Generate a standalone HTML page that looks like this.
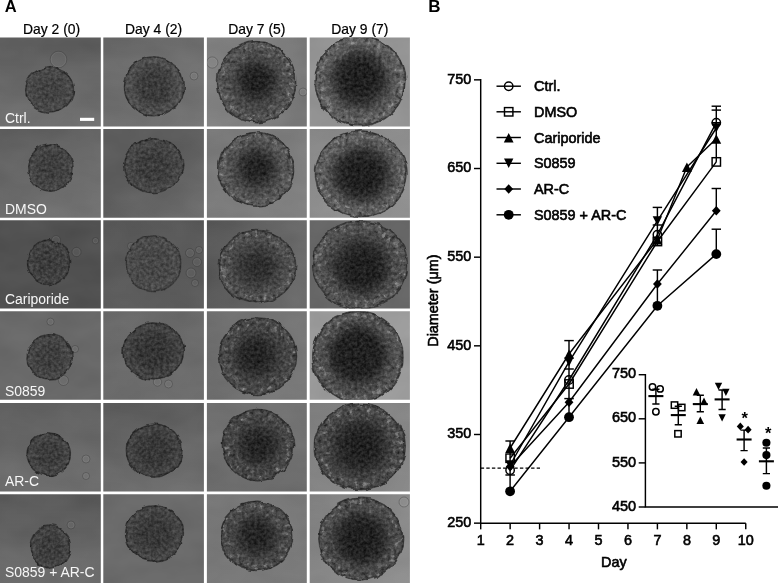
<!DOCTYPE html>
<html><head><meta charset="utf-8"><title>Figure</title>
<style>
html,body{margin:0;padding:0;background:#fff;}
svg{display:block;}
text{font-family:"Liberation Sans",Arial,Helvetica,sans-serif;}
</style></head><body>
<svg width="778" height="583" viewBox="0 0 778 583">
<defs>
<filter id="sph" x="-12%" y="-12%" width="124%" height="124%" color-interpolation-filters="sRGB">
<feTurbulence type="fractalNoise" baseFrequency="0.085" numOctaves="2" seed="3" result="n"/>
<feDisplacementMap in="SourceGraphic" in2="n" scale="5" xChannelSelector="R" yChannelSelector="G" result="d"/>
<feTurbulence type="fractalNoise" baseFrequency="0.33" numOctaves="2" seed="11" result="t0"/>
<feColorMatrix in="t0" type="matrix" values="1 0 0 0 0  1 0 0 0 0  1 0 0 0 0  0 0 0 0 0.5" result="t"/>
<feComposite in="d" in2="t" operator="arithmetic" k1="0" k2="1" k3="0.5" k4="-0.125" result="a"/>
<feComposite in="a" in2="d" operator="in" result="b"/>
<feGaussianBlur in="b" stdDeviation="0.45"/>
</filter>
<filter id="mot" x="-5%" y="-5%" width="110%" height="110%" color-interpolation-filters="sRGB">
<feTurbulence type="fractalNoise" baseFrequency="0.22" numOctaves="2" seed="23" result="t"/>
<feColorMatrix in="t" type="matrix" values="0 0 0 0 0.75  0 0 0 0 0.75  0 0 0 0 0.75  5 0 0 0 -2.85" result="li"/>
<feColorMatrix in="t" type="matrix" values="0 0 0 0 0.08  0 0 0 0 0.08  0 0 0 0 0.08  -5 0 0 0 2.15" result="da"/>
<feMerge result="m"><feMergeNode in="li"/><feMergeNode in="da"/></feMerge>
<feComposite in="m" in2="SourceGraphic" operator="in"/>
</filter>
<filter id="bgn" x="0" y="0" width="100%" height="100%" color-interpolation-filters="sRGB">
<feTurbulence type="fractalNoise" baseFrequency="0.02 0.035" numOctaves="3" seed="5" result="t0"/>
<feColorMatrix in="t0" type="matrix" values="1 0 0 0 0  1 0 0 0 0  1 0 0 0 0  0 0 0 0 1" result="t"/>
<feComposite in="SourceGraphic" in2="t" operator="arithmetic" k1="0" k2="1" k3="0.06" k4="-0.03"/>
</filter>

<radialGradient id="g00" cx="0.5" cy="0.5" r="0.5"><stop offset="0" stop-color="#424242"/><stop offset="0.45" stop-color="#424242"/><stop offset="0.88" stop-color="#4a4a4a"/><stop offset="1" stop-color="#4a4a4a"/></radialGradient>
<linearGradient id="b00" x1="0.5" y1="0.1" x2="0.5" y2="1"><stop offset="0" stop-color="#5e5e5e"/><stop offset="1" stop-color="#727272"/></linearGradient>
<radialGradient id="g01" cx="0.5" cy="0.5" r="0.5"><stop offset="0" stop-color="#3b3b3b"/><stop offset="0.45" stop-color="#3b3b3b"/><stop offset="0.88" stop-color="#505050"/><stop offset="1" stop-color="#505050"/></radialGradient>
<linearGradient id="b01" x1="0" y1="0" x2="1" y2="1"><stop offset="0" stop-color="#676767"/><stop offset="1" stop-color="#757575"/></linearGradient>
<radialGradient id="g02" cx="0.5" cy="0.5" r="0.5"><stop offset="0" stop-color="#3c3c3c"/><stop offset="0.45" stop-color="#3c3c3c"/><stop offset="0.88" stop-color="#565656"/><stop offset="1" stop-color="#565656"/></radialGradient>
<radialGradient id="k02" gradientUnits="userSpaceOnUse" cx="256.6" cy="81" r="22"><stop offset="0" stop-color="#222222"/><stop offset="0.409" stop-color="#222222"/><stop offset="0.705" stop-color="#222222" stop-opacity="0.5"/><stop offset="1" stop-color="#222222" stop-opacity="0"/></radialGradient>
<linearGradient id="b02" x1="0" y1="0.2" x2="1" y2="0.5"><stop offset="0" stop-color="#838383"/><stop offset="1" stop-color="#777777"/></linearGradient>
<radialGradient id="g03" cx="0.5" cy="0.5" r="0.5"><stop offset="0" stop-color="#383838"/><stop offset="0.45" stop-color="#383838"/><stop offset="0.88" stop-color="#606060"/><stop offset="1" stop-color="#606060"/></radialGradient>
<radialGradient id="k03" gradientUnits="userSpaceOnUse" cx="359.2" cy="78" r="31"><stop offset="0" stop-color="#202020"/><stop offset="0.419" stop-color="#202020"/><stop offset="0.710" stop-color="#202020" stop-opacity="0.5"/><stop offset="1" stop-color="#202020" stop-opacity="0"/></radialGradient>
<radialGradient id="g10" cx="0.5" cy="0.5" r="0.5"><stop offset="0" stop-color="#3e3e3e"/><stop offset="0.45" stop-color="#3e3e3e"/><stop offset="0.88" stop-color="#484848"/><stop offset="1" stop-color="#484848"/></radialGradient>
<linearGradient id="b10" x1="0.2" y1="0" x2="0.8" y2="1"><stop offset="0" stop-color="#5e5e5e"/><stop offset="1" stop-color="#747474"/></linearGradient>
<radialGradient id="g11" cx="0.5" cy="0.5" r="0.5"><stop offset="0" stop-color="#3c3c3c"/><stop offset="0.45" stop-color="#3c3c3c"/><stop offset="0.88" stop-color="#484848"/><stop offset="1" stop-color="#484848"/></radialGradient>
<linearGradient id="b11" x1="0.45" y1="0.4" x2="1" y2="1"><stop offset="0" stop-color="#5c5c5c"/><stop offset="1" stop-color="#717171"/></linearGradient>
<radialGradient id="g12" cx="0.5" cy="0.5" r="0.5"><stop offset="0" stop-color="#3e3e3e"/><stop offset="0.45" stop-color="#3e3e3e"/><stop offset="0.88" stop-color="#5a5a5a"/><stop offset="1" stop-color="#5a5a5a"/></radialGradient>
<radialGradient id="k12" gradientUnits="userSpaceOnUse" cx="256.6" cy="168" r="21"><stop offset="0" stop-color="#242424"/><stop offset="0.381" stop-color="#242424"/><stop offset="0.690" stop-color="#242424" stop-opacity="0.5"/><stop offset="1" stop-color="#242424" stop-opacity="0"/></radialGradient>
<linearGradient id="b12" x1="0" y1="0" x2="1" y2="1"><stop offset="0" stop-color="#767676"/><stop offset="1" stop-color="#828282"/></linearGradient>
<radialGradient id="g13" cx="0.5" cy="0.5" r="0.5"><stop offset="0" stop-color="#363636"/><stop offset="0.45" stop-color="#363636"/><stop offset="0.88" stop-color="#606060"/><stop offset="1" stop-color="#606060"/></radialGradient>
<radialGradient id="k13" gradientUnits="userSpaceOnUse" cx="361.5" cy="175.1" r="31"><stop offset="0" stop-color="#202020"/><stop offset="0.419" stop-color="#202020"/><stop offset="0.710" stop-color="#202020" stop-opacity="0.5"/><stop offset="1" stop-color="#202020" stop-opacity="0"/></radialGradient>
<linearGradient id="b13" x1="0" y1="0" x2="1" y2="1"><stop offset="0" stop-color="#858585"/><stop offset="1" stop-color="#929292"/></linearGradient>
<radialGradient id="g20" cx="0.5" cy="0.5" r="0.5"><stop offset="0" stop-color="#3c3c3c"/><stop offset="0.45" stop-color="#3c3c3c"/><stop offset="0.88" stop-color="#444444"/><stop offset="1" stop-color="#444444"/></radialGradient>
<radialGradient id="g21" cx="0.5" cy="0.5" r="0.5"><stop offset="0" stop-color="#474747"/><stop offset="0.45" stop-color="#474747"/><stop offset="0.88" stop-color="#4c4c4c"/><stop offset="1" stop-color="#4c4c4c"/></radialGradient>
<linearGradient id="b21" x1="0.5" y1="0" x2="0.5" y2="1"><stop offset="0" stop-color="#575757"/><stop offset="1" stop-color="#5c5c5c"/></linearGradient>
<radialGradient id="g22" cx="0.5" cy="0.5" r="0.5"><stop offset="0" stop-color="#3c3c3c"/><stop offset="0.45" stop-color="#3c3c3c"/><stop offset="0.88" stop-color="#525252"/><stop offset="1" stop-color="#525252"/></radialGradient>
<radialGradient id="k22" gradientUnits="userSpaceOnUse" cx="258" cy="267" r="19"><stop offset="0" stop-color="#2e2e2e"/><stop offset="0.421" stop-color="#2e2e2e"/><stop offset="0.711" stop-color="#2e2e2e" stop-opacity="0.5"/><stop offset="1" stop-color="#2e2e2e" stop-opacity="0"/></radialGradient>
<linearGradient id="b22" x1="0" y1="0.5" x2="1" y2="0.5"><stop offset="0" stop-color="#565656"/><stop offset="1" stop-color="#6d6d6d"/></linearGradient>
<radialGradient id="g23" cx="0.5" cy="0.5" r="0.5"><stop offset="0" stop-color="#343434"/><stop offset="0.45" stop-color="#343434"/><stop offset="0.88" stop-color="#545454"/><stop offset="1" stop-color="#545454"/></radialGradient>
<radialGradient id="k23" gradientUnits="userSpaceOnUse" cx="362.5" cy="268.5" r="30"><stop offset="0" stop-color="#202020"/><stop offset="0.400" stop-color="#202020"/><stop offset="0.700" stop-color="#202020" stop-opacity="0.5"/><stop offset="1" stop-color="#202020" stop-opacity="0"/></radialGradient>
<radialGradient id="g30" cx="0.5" cy="0.5" r="0.5"><stop offset="0" stop-color="#3e3e3e"/><stop offset="0.45" stop-color="#3e3e3e"/><stop offset="0.88" stop-color="#484848"/><stop offset="1" stop-color="#484848"/></radialGradient>
<radialGradient id="g31" cx="0.5" cy="0.5" r="0.5"><stop offset="0" stop-color="#353535"/><stop offset="0.45" stop-color="#353535"/><stop offset="0.88" stop-color="#444444"/><stop offset="1" stop-color="#444444"/></radialGradient>
<linearGradient id="b31" x1="0" y1="0" x2="1" y2="1"><stop offset="0" stop-color="#676767"/><stop offset="1" stop-color="#6e6e6e"/></linearGradient>
<radialGradient id="g32" cx="0.5" cy="0.5" r="0.5"><stop offset="0" stop-color="#363636"/><stop offset="0.45" stop-color="#363636"/><stop offset="0.88" stop-color="#4a4a4a"/><stop offset="1" stop-color="#4a4a4a"/></radialGradient>
<radialGradient id="k32" gradientUnits="userSpaceOnUse" cx="255.3" cy="355.3" r="22"><stop offset="0" stop-color="#242424"/><stop offset="0.409" stop-color="#242424"/><stop offset="0.705" stop-color="#242424" stop-opacity="0.5"/><stop offset="1" stop-color="#242424" stop-opacity="0"/></radialGradient>
<linearGradient id="b32" x1="0" y1="0.4" x2="1" y2="0.6"><stop offset="0" stop-color="#6c6c6c"/><stop offset="1" stop-color="#797979"/></linearGradient>
<radialGradient id="g33" cx="0.5" cy="0.5" r="0.5"><stop offset="0" stop-color="#2e2e2e"/><stop offset="0.45" stop-color="#2e2e2e"/><stop offset="0.88" stop-color="#545454"/><stop offset="1" stop-color="#545454"/></radialGradient>
<radialGradient id="k33" gradientUnits="userSpaceOnUse" cx="357.2" cy="353.5" r="31"><stop offset="0" stop-color="#212121"/><stop offset="0.581" stop-color="#212121"/><stop offset="0.790" stop-color="#212121" stop-opacity="0.5"/><stop offset="1" stop-color="#212121" stop-opacity="0"/></radialGradient>
<radialGradient id="g40" cx="0.5" cy="0.5" r="0.5"><stop offset="0" stop-color="#3c3c3c"/><stop offset="0.45" stop-color="#3c3c3c"/><stop offset="0.88" stop-color="#464646"/><stop offset="1" stop-color="#464646"/></radialGradient>
<linearGradient id="b40" x1="0.4" y1="0" x2="0.6" y2="1"><stop offset="0" stop-color="#616161"/><stop offset="1" stop-color="#6e6e6e"/></linearGradient>
<radialGradient id="g41" cx="0.5" cy="0.5" r="0.5"><stop offset="0" stop-color="#373737"/><stop offset="0.45" stop-color="#373737"/><stop offset="0.88" stop-color="#444444"/><stop offset="1" stop-color="#444444"/></radialGradient>
<linearGradient id="b41" x1="0.4" y1="0" x2="0.6" y2="1"><stop offset="0" stop-color="#5c5c5c"/><stop offset="1" stop-color="#6f6f6f"/></linearGradient>
<radialGradient id="g42" cx="0.5" cy="0.5" r="0.5"><stop offset="0" stop-color="#373737"/><stop offset="0.45" stop-color="#373737"/><stop offset="0.88" stop-color="#484848"/><stop offset="1" stop-color="#484848"/></radialGradient>
<radialGradient id="k42" gradientUnits="userSpaceOnUse" cx="258" cy="446" r="21"><stop offset="0" stop-color="#242424"/><stop offset="0.381" stop-color="#242424"/><stop offset="0.690" stop-color="#242424" stop-opacity="0.5"/><stop offset="1" stop-color="#242424" stop-opacity="0"/></radialGradient>
<linearGradient id="b42" x1="0.5" y1="0" x2="0.5" y2="1"><stop offset="0" stop-color="#737373"/><stop offset="1" stop-color="#6c6c6c"/></linearGradient>
<radialGradient id="g43" cx="0.5" cy="0.5" r="0.5"><stop offset="0" stop-color="#2e2e2e"/><stop offset="0.45" stop-color="#2e2e2e"/><stop offset="0.88" stop-color="#4c4c4c"/><stop offset="1" stop-color="#4c4c4c"/></radialGradient>
<radialGradient id="k43" gradientUnits="userSpaceOnUse" cx="361.2" cy="446" r="26"><stop offset="0" stop-color="#212121"/><stop offset="0.385" stop-color="#212121"/><stop offset="0.692" stop-color="#212121" stop-opacity="0.5"/><stop offset="1" stop-color="#212121" stop-opacity="0"/></radialGradient>
<linearGradient id="b43" x1="0" y1="0" x2="1" y2="1"><stop offset="0" stop-color="#7e7e7e"/><stop offset="1" stop-color="#898989"/></linearGradient>
<radialGradient id="g50" cx="0.5" cy="0.5" r="0.5"><stop offset="0" stop-color="#3c3c3c"/><stop offset="0.45" stop-color="#3c3c3c"/><stop offset="0.88" stop-color="#464646"/><stop offset="1" stop-color="#464646"/></radialGradient>
<linearGradient id="b50" x1="0.5" y1="0" x2="0.5" y2="1"><stop offset="0" stop-color="#595959"/><stop offset="1" stop-color="#6e6e6e"/></linearGradient>
<radialGradient id="g51" cx="0.5" cy="0.5" r="0.5"><stop offset="0" stop-color="#383838"/><stop offset="0.45" stop-color="#383838"/><stop offset="0.88" stop-color="#464646"/><stop offset="1" stop-color="#464646"/></radialGradient>
<radialGradient id="g52" cx="0.5" cy="0.5" r="0.5"><stop offset="0" stop-color="#383838"/><stop offset="0.45" stop-color="#383838"/><stop offset="0.88" stop-color="#4c4c4c"/><stop offset="1" stop-color="#4c4c4c"/></radialGradient>
<radialGradient id="k52" gradientUnits="userSpaceOnUse" cx="256.6" cy="535.3" r="21"><stop offset="0" stop-color="#242424"/><stop offset="0.381" stop-color="#242424"/><stop offset="0.690" stop-color="#242424" stop-opacity="0.5"/><stop offset="1" stop-color="#242424" stop-opacity="0"/></radialGradient>
<linearGradient id="b52" x1="0" y1="0" x2="1" y2="1"><stop offset="0" stop-color="#757575"/><stop offset="1" stop-color="#7c7c7c"/></linearGradient>
<radialGradient id="g53" cx="0.5" cy="0.5" r="0.5"><stop offset="0" stop-color="#303030"/><stop offset="0.45" stop-color="#303030"/><stop offset="0.88" stop-color="#4e4e4e"/><stop offset="1" stop-color="#4e4e4e"/></radialGradient>
<radialGradient id="k53" gradientUnits="userSpaceOnUse" cx="361.2" cy="539.3" r="29"><stop offset="0" stop-color="#202020"/><stop offset="0.414" stop-color="#202020"/><stop offset="0.707" stop-color="#202020" stop-opacity="0.5"/><stop offset="1" stop-color="#202020" stop-opacity="0"/></radialGradient>
<linearGradient id="b53" x1="0" y1="0" x2="1" y2="1"><stop offset="0" stop-color="#7f7f7f"/><stop offset="1" stop-color="#909090"/></linearGradient>
</defs>
<rect width="778" height="583" fill="#fff"/>
<svg x="0" y="37.5" width="100.8" height="89.1" viewBox="0 37.5 100.8 89.1" overflow="hidden">
<rect x="-2" y="35.5" width="104.8" height="93.1" fill="url(#b00)" filter="url(#bgn)"/>
<circle cx="58.5" cy="59.5" r="8.3" fill="#fff" fill-opacity="0.03" stroke="#303030" stroke-opacity="0.35" stroke-width="0.9"/><circle cx="58.5" cy="59.5" r="7.300000000000001" fill="none" stroke="#fff" stroke-opacity="0.08" stroke-width="0.8"/>
<g filter="url(#sph)"><ellipse cx="49.6" cy="89.9" rx="23.9" ry="22.2" fill="url(#g00)"/>
<ellipse cx="49.6" cy="89.9" rx="23.9" ry="22.2" fill="none" stroke="#303030" stroke-width="1.8" stroke-opacity="0.8"/></g>
</svg>
<svg x="103.3" y="37.5" width="100.6" height="89.1" viewBox="103.3 37.5 100.6 89.1" overflow="hidden">
<rect x="101.3" y="35.5" width="104.6" height="93.1" fill="url(#b01)" filter="url(#bgn)"/>
<circle cx="194" cy="76" r="4" fill="#fff" fill-opacity="0.03" stroke="#303030" stroke-opacity="0.35" stroke-width="0.9"/><circle cx="194" cy="76" r="3" fill="none" stroke="#fff" stroke-opacity="0.08" stroke-width="0.8"/>
<g filter="url(#sph)"><ellipse cx="153.9" cy="86.4" rx="29.5" ry="29.5" fill="url(#g01)"/>
<ellipse cx="153.9" cy="86.4" rx="29.5" ry="29.5" fill="none" stroke="#2e2e2e" stroke-width="1.8" stroke-opacity="0.8"/></g>
</svg>
<svg x="206.9" y="37.5" width="99.9" height="89.1" viewBox="206.9 37.5 99.9 89.1" overflow="hidden">
<rect x="204.9" y="35.5" width="103.9" height="93.1" fill="url(#b02)" filter="url(#bgn)"/>
<circle cx="212.3" cy="62.5" r="5.6" fill="#fff" fill-opacity="0.03" stroke="#303030" stroke-opacity="0.35" stroke-width="0.9"/><circle cx="212.3" cy="62.5" r="4.6" fill="none" stroke="#fff" stroke-opacity="0.08" stroke-width="0.8"/>
<circle cx="303" cy="92" r="4" fill="#fff" fill-opacity="0.03" stroke="#303030" stroke-opacity="0.35" stroke-width="0.9"/><circle cx="303" cy="92" r="3" fill="none" stroke="#fff" stroke-opacity="0.08" stroke-width="0.8"/>
<g filter="url(#sph)"><ellipse cx="256.5" cy="82.2" rx="39.2" ry="40.6" fill="url(#g02)"/>
<circle cx="256.6" cy="81" r="22" fill="url(#k02)"/>
<ellipse cx="256.5" cy="82.2" rx="35.8" ry="37.2" fill="none" stroke="#000" stroke-width="6.8" opacity="0.42" filter="url(#mot)"/>
<ellipse cx="256.5" cy="82.2" rx="29.1" ry="30.5" fill="none" stroke="#000" stroke-width="6.8" opacity="0.21" filter="url(#mot)"/>
<ellipse cx="256.5" cy="82.2" rx="39.2" ry="40.6" fill="none" stroke="#2e2e2e" stroke-width="1.8" stroke-opacity="0.8"/></g>
</svg>
<svg x="309.7" y="37.5" width="100.2" height="89.1" viewBox="309.7 37.5 100.2 89.1" overflow="hidden">
<rect x="307.7" y="35.5" width="104.2" height="93.1" fill="#949494" filter="url(#bgn)"/>
<g filter="url(#sph)"><ellipse cx="360" cy="81" rx="44.9" ry="44.9" fill="url(#g03)"/>
<circle cx="359.2" cy="78" r="31" fill="url(#k03)"/>
<ellipse cx="360" cy="81" rx="41.0" ry="41.0" fill="none" stroke="#000" stroke-width="7.7" opacity="0.42" filter="url(#mot)"/>
<ellipse cx="360" cy="81" rx="33.3" ry="33.3" fill="none" stroke="#000" stroke-width="7.7" opacity="0.21" filter="url(#mot)"/>
<ellipse cx="360" cy="81" rx="44.9" ry="44.9" fill="none" stroke="#323232" stroke-width="1.8" stroke-opacity="0.8"/></g>
</svg>
<svg x="0" y="129.1" width="100.8" height="88.7" viewBox="0 129.1 100.8 88.7" overflow="hidden">
<rect x="-2" y="127.1" width="104.8" height="92.7" fill="url(#b10)" filter="url(#bgn)"/>
<g filter="url(#sph)"><ellipse cx="50.4" cy="168" rx="22.6" ry="23.2" fill="url(#g10)"/>
<ellipse cx="50.4" cy="168" rx="22.6" ry="23.2" fill="none" stroke="#2e2e2e" stroke-width="1.8" stroke-opacity="0.8"/></g>
</svg>
<svg x="103.3" y="129.1" width="100.6" height="88.7" viewBox="103.3 129.1 100.6 88.7" overflow="hidden">
<rect x="101.3" y="127.1" width="104.6" height="92.7" fill="url(#b11)" filter="url(#bgn)"/>
<g filter="url(#sph)"><ellipse cx="153.3" cy="165.7" rx="29.6" ry="26.9" fill="url(#g11)"/>
<ellipse cx="153.3" cy="165.7" rx="29.6" ry="26.9" fill="none" stroke="#2e2e2e" stroke-width="1.8" stroke-opacity="0.8"/></g>
</svg>
<svg x="206.9" y="129.1" width="99.9" height="88.7" viewBox="206.9 129.1 99.9 88.7" overflow="hidden">
<rect x="204.9" y="127.1" width="103.9" height="92.7" fill="url(#b12)" filter="url(#bgn)"/>
<g filter="url(#sph)"><ellipse cx="256.1" cy="169.2" rx="37.6" ry="36.9" fill="url(#g12)"/>
<circle cx="256.6" cy="168" r="21" fill="url(#k12)"/>
<ellipse cx="256.1" cy="169.2" rx="34.4" ry="33.7" fill="none" stroke="#000" stroke-width="6.5" opacity="0.42" filter="url(#mot)"/>
<ellipse cx="256.1" cy="169.2" rx="27.9" ry="27.2" fill="none" stroke="#000" stroke-width="6.5" opacity="0.21" filter="url(#mot)"/>
<ellipse cx="256.1" cy="169.2" rx="37.6" ry="36.9" fill="none" stroke="#2e2e2e" stroke-width="1.8" stroke-opacity="0.8"/></g>
</svg>
<svg x="309.7" y="129.1" width="100.2" height="88.7" viewBox="309.7 129.1 100.2 88.7" overflow="hidden">
<rect x="307.7" y="127.1" width="104.2" height="92.7" fill="url(#b13)" filter="url(#bgn)"/>
<g filter="url(#sph)"><ellipse cx="361.2" cy="173.8" rx="45.8" ry="42.9" fill="url(#g13)"/>
<circle cx="361.5" cy="175.1" r="31" fill="url(#k13)"/>
<ellipse cx="361.2" cy="173.8" rx="41.9" ry="39.0" fill="none" stroke="#000" stroke-width="7.9" opacity="0.42" filter="url(#mot)"/>
<ellipse cx="361.2" cy="173.8" rx="34.0" ry="31.1" fill="none" stroke="#000" stroke-width="7.9" opacity="0.21" filter="url(#mot)"/>
<ellipse cx="361.2" cy="173.8" rx="45.8" ry="42.9" fill="none" stroke="#323232" stroke-width="1.8" stroke-opacity="0.8"/></g>
</svg>
<svg x="0" y="220.2" width="100.8" height="88.4" viewBox="0 220.2 100.8 88.4" overflow="hidden">
<rect x="-2" y="218.2" width="104.8" height="92.4" fill="#515151" filter="url(#bgn)"/>
<circle cx="76.5" cy="252" r="4.6" fill="#fff" fill-opacity="0.03" stroke="#303030" stroke-opacity="0.35" stroke-width="0.9"/><circle cx="76.5" cy="252" r="3.5999999999999996" fill="none" stroke="#fff" stroke-opacity="0.08" stroke-width="0.8"/>
<circle cx="95.5" cy="240.7" r="3.2" fill="#fff" fill-opacity="0.03" stroke="#303030" stroke-opacity="0.35" stroke-width="0.9"/><circle cx="95.5" cy="240.7" r="2.2" fill="none" stroke="#fff" stroke-opacity="0.08" stroke-width="0.8"/>
<circle cx="56" cy="240" r="4.5" fill="#fff" fill-opacity="0.03" stroke="#303030" stroke-opacity="0.35" stroke-width="0.9"/><circle cx="56" cy="240" r="3.5" fill="none" stroke="#fff" stroke-opacity="0.08" stroke-width="0.8"/>
<g filter="url(#sph)"><ellipse cx="48.6" cy="262.3" rx="21.0" ry="22.4" fill="url(#g20)"/>
<ellipse cx="48.6" cy="262.3" rx="21.0" ry="22.4" fill="none" stroke="#2c2c2c" stroke-width="1.8" stroke-opacity="0.8"/></g>
</svg>
<svg x="103.3" y="220.2" width="100.6" height="88.4" viewBox="103.3 220.2 100.6 88.4" overflow="hidden">
<rect x="101.3" y="218.2" width="104.6" height="92.4" fill="url(#b21)" filter="url(#bgn)"/>
<circle cx="190" cy="253" r="4.5" fill="#fff" fill-opacity="0.03" stroke="#303030" stroke-opacity="0.35" stroke-width="0.9"/><circle cx="190" cy="253" r="3.5" fill="none" stroke="#fff" stroke-opacity="0.08" stroke-width="0.8"/>
<circle cx="197" cy="262" r="4.5" fill="#fff" fill-opacity="0.03" stroke="#303030" stroke-opacity="0.35" stroke-width="0.9"/><circle cx="197" cy="262" r="3.5" fill="none" stroke="#fff" stroke-opacity="0.08" stroke-width="0.8"/>
<circle cx="191" cy="273" r="5" fill="#fff" fill-opacity="0.03" stroke="#303030" stroke-opacity="0.35" stroke-width="0.9"/><circle cx="191" cy="273" r="4" fill="none" stroke="#fff" stroke-opacity="0.08" stroke-width="0.8"/>
<circle cx="199" cy="250" r="3.5" fill="#fff" fill-opacity="0.03" stroke="#303030" stroke-opacity="0.35" stroke-width="0.9"/><circle cx="199" cy="250" r="2.5" fill="none" stroke="#fff" stroke-opacity="0.08" stroke-width="0.8"/>
<circle cx="195" cy="283" r="3.5" fill="#fff" fill-opacity="0.03" stroke="#303030" stroke-opacity="0.35" stroke-width="0.9"/><circle cx="195" cy="283" r="2.5" fill="none" stroke="#fff" stroke-opacity="0.08" stroke-width="0.8"/>
<circle cx="131" cy="246" r="3.5" fill="#fff" fill-opacity="0.03" stroke="#303030" stroke-opacity="0.35" stroke-width="0.9"/><circle cx="131" cy="246" r="2.5" fill="none" stroke="#fff" stroke-opacity="0.08" stroke-width="0.8"/>
<g filter="url(#sph)"><ellipse cx="153.6" cy="263.7" rx="27.2" ry="27.8" fill="url(#g21)"/>
<ellipse cx="153.6" cy="263.7" rx="27.2" ry="27.8" fill="none" stroke="#383838" stroke-width="1.8" stroke-opacity="0.8"/></g>
</svg>
<svg x="206.9" y="220.2" width="99.9" height="88.4" viewBox="206.9 220.2 99.9 88.4" overflow="hidden">
<rect x="204.9" y="218.2" width="103.9" height="92.4" fill="url(#b22)" filter="url(#bgn)"/>
<g filter="url(#sph)"><ellipse cx="257" cy="266.6" rx="38.7" ry="36.1" fill="url(#g22)"/>
<circle cx="258" cy="267" r="19" fill="url(#k22)"/>
<ellipse cx="257" cy="266.6" rx="35.4" ry="32.8" fill="none" stroke="#000" stroke-width="6.7" opacity="0.42" filter="url(#mot)"/>
<ellipse cx="257" cy="266.6" rx="28.7" ry="26.1" fill="none" stroke="#000" stroke-width="6.7" opacity="0.21" filter="url(#mot)"/>
<ellipse cx="257" cy="266.6" rx="38.7" ry="36.1" fill="none" stroke="#303030" stroke-width="1.8" stroke-opacity="0.8"/></g>
</svg>
<svg x="309.7" y="220.2" width="100.2" height="88.4" viewBox="309.7 220.2 100.2 88.4" overflow="hidden">
<rect x="307.7" y="218.2" width="104.2" height="92.4" fill="#676767" filter="url(#bgn)"/>
<g filter="url(#sph)"><ellipse cx="360.1" cy="265" rx="47.4" ry="43.9" fill="url(#g23)"/>
<circle cx="362.5" cy="268.5" r="30" fill="url(#k23)"/>
<ellipse cx="360.1" cy="265" rx="43.3" ry="39.8" fill="none" stroke="#000" stroke-width="8.2" opacity="0.42" filter="url(#mot)"/>
<ellipse cx="360.1" cy="265" rx="35.2" ry="31.7" fill="none" stroke="#000" stroke-width="8.2" opacity="0.21" filter="url(#mot)"/>
<ellipse cx="360.1" cy="265" rx="47.4" ry="43.9" fill="none" stroke="#323232" stroke-width="1.8" stroke-opacity="0.8"/></g>
</svg>
<svg x="0" y="311.2" width="100.8" height="88.5" viewBox="0 311.2 100.8 88.5" overflow="hidden">
<rect x="-2" y="309.2" width="104.8" height="92.5" fill="#686868" filter="url(#bgn)"/>
<circle cx="50.5" cy="321.7" r="3.6" fill="#fff" fill-opacity="0.03" stroke="#303030" stroke-opacity="0.35" stroke-width="0.9"/><circle cx="50.5" cy="321.7" r="2.6" fill="none" stroke="#fff" stroke-opacity="0.08" stroke-width="0.8"/>
<circle cx="63.5" cy="380.5" r="5" fill="#fff" fill-opacity="0.03" stroke="#303030" stroke-opacity="0.35" stroke-width="0.9"/><circle cx="63.5" cy="380.5" r="4" fill="none" stroke="#fff" stroke-opacity="0.08" stroke-width="0.8"/>
<circle cx="75" cy="349" r="3.5" fill="#fff" fill-opacity="0.03" stroke="#303030" stroke-opacity="0.35" stroke-width="0.9"/><circle cx="75" cy="349" r="2.5" fill="none" stroke="#fff" stroke-opacity="0.08" stroke-width="0.8"/>
<g filter="url(#sph)"><ellipse cx="49.6" cy="357.3" rx="22.6" ry="22.6" fill="url(#g30)"/>
<ellipse cx="49.6" cy="357.3" rx="22.6" ry="22.6" fill="none" stroke="#2e2e2e" stroke-width="1.8" stroke-opacity="0.8"/></g>
</svg>
<svg x="103.3" y="311.2" width="100.6" height="88.5" viewBox="103.3 311.2 100.6 88.5" overflow="hidden">
<rect x="101.3" y="309.2" width="104.6" height="92.5" fill="url(#b31)" filter="url(#bgn)"/>
<circle cx="157.5" cy="382" r="4.2" fill="#fff" fill-opacity="0.03" stroke="#303030" stroke-opacity="0.35" stroke-width="0.9"/><circle cx="157.5" cy="382" r="3.2" fill="none" stroke="#fff" stroke-opacity="0.08" stroke-width="0.8"/>
<circle cx="168.5" cy="384" r="4" fill="#fff" fill-opacity="0.03" stroke="#303030" stroke-opacity="0.35" stroke-width="0.9"/><circle cx="168.5" cy="384" r="3" fill="none" stroke="#fff" stroke-opacity="0.08" stroke-width="0.8"/>
<g filter="url(#sph)"><ellipse cx="153.2" cy="351.4" rx="30.2" ry="28.4" fill="url(#g31)"/>
<ellipse cx="153.2" cy="351.4" rx="30.2" ry="28.4" fill="none" stroke="#2a2a2a" stroke-width="1.8" stroke-opacity="0.8"/></g>
</svg>
<svg x="206.9" y="311.2" width="99.9" height="88.5" viewBox="206.9 311.2 99.9 88.5" overflow="hidden">
<rect x="204.9" y="309.2" width="103.9" height="92.5" fill="url(#b32)" filter="url(#bgn)"/>
<g filter="url(#sph)"><ellipse cx="257.5" cy="356.3" rx="39.0" ry="38.4" fill="url(#g32)"/>
<circle cx="255.3" cy="355.3" r="22" fill="url(#k32)"/>
<ellipse cx="257.5" cy="356.3" rx="35.6" ry="35.0" fill="none" stroke="#000" stroke-width="6.7" opacity="0.42" filter="url(#mot)"/>
<ellipse cx="257.5" cy="356.3" rx="28.9" ry="28.3" fill="none" stroke="#000" stroke-width="6.7" opacity="0.21" filter="url(#mot)"/>
<ellipse cx="257.5" cy="356.3" rx="39.0" ry="38.4" fill="none" stroke="#2e2e2e" stroke-width="1.8" stroke-opacity="0.8"/></g>
</svg>
<svg x="309.7" y="311.2" width="100.2" height="88.5" viewBox="309.7 311.2 100.2 88.5" overflow="hidden">
<rect x="307.7" y="309.2" width="104.2" height="92.5" fill="#9b9b9b" filter="url(#bgn)"/>
<g filter="url(#sph)"><ellipse cx="357.9" cy="356.7" rx="45.1" ry="45.4" fill="url(#g33)"/>
<circle cx="357.2" cy="353.5" r="31" fill="url(#k33)"/>
<ellipse cx="357.9" cy="356.7" rx="41.2" ry="41.5" fill="none" stroke="#000" stroke-width="7.8" opacity="0.42" filter="url(#mot)"/>
<ellipse cx="357.9" cy="356.7" rx="33.4" ry="33.7" fill="none" stroke="#000" stroke-width="7.8" opacity="0.21" filter="url(#mot)"/>
<ellipse cx="357.9" cy="356.7" rx="45.1" ry="45.4" fill="none" stroke="#323232" stroke-width="1.8" stroke-opacity="0.8"/></g>
</svg>
<svg x="0" y="403.0" width="100.8" height="88.6" viewBox="0 403.0 100.8 88.6" overflow="hidden">
<rect x="-2" y="401.0" width="104.8" height="92.6" fill="url(#b40)" filter="url(#bgn)"/>
<circle cx="86" cy="459" r="4" fill="#fff" fill-opacity="0.03" stroke="#303030" stroke-opacity="0.35" stroke-width="0.9"/><circle cx="86" cy="459" r="3" fill="none" stroke="#fff" stroke-opacity="0.08" stroke-width="0.8"/>
<circle cx="86" cy="476" r="3.5" fill="#fff" fill-opacity="0.03" stroke="#303030" stroke-opacity="0.35" stroke-width="0.9"/><circle cx="86" cy="476" r="2.5" fill="none" stroke="#fff" stroke-opacity="0.08" stroke-width="0.8"/>
<g filter="url(#sph)"><ellipse cx="48.7" cy="454.3" rx="21.6" ry="21.4" fill="url(#g40)"/>
<ellipse cx="48.7" cy="454.3" rx="21.6" ry="21.4" fill="none" stroke="#2c2c2c" stroke-width="1.8" stroke-opacity="0.8"/></g>
</svg>
<svg x="103.3" y="403.0" width="100.6" height="88.6" viewBox="103.3 403.0 100.6 88.6" overflow="hidden">
<rect x="101.3" y="401.0" width="104.6" height="92.6" fill="url(#b41)" filter="url(#bgn)"/>
<g filter="url(#sph)"><ellipse cx="154.2" cy="450.6" rx="27.9" ry="26.4" fill="url(#g41)"/>
<ellipse cx="154.2" cy="450.6" rx="27.9" ry="26.4" fill="none" stroke="#2a2a2a" stroke-width="1.8" stroke-opacity="0.8"/></g>
</svg>
<svg x="206.9" y="403.0" width="99.9" height="88.6" viewBox="206.9 403.0 99.9 88.6" overflow="hidden">
<rect x="204.9" y="401.0" width="103.9" height="92.6" fill="url(#b42)" filter="url(#bgn)"/>
<g filter="url(#sph)"><ellipse cx="258" cy="445.1" rx="35.7" ry="35.7" fill="url(#g42)"/>
<circle cx="258" cy="446" r="21" fill="url(#k42)"/>
<ellipse cx="258" cy="445.1" rx="32.6" ry="32.6" fill="none" stroke="#000" stroke-width="6.2" opacity="0.42" filter="url(#mot)"/>
<ellipse cx="258" cy="445.1" rx="26.4" ry="26.4" fill="none" stroke="#000" stroke-width="6.2" opacity="0.21" filter="url(#mot)"/>
<ellipse cx="258" cy="445.1" rx="35.7" ry="35.7" fill="none" stroke="#2e2e2e" stroke-width="1.8" stroke-opacity="0.8"/></g>
</svg>
<svg x="309.7" y="403.0" width="100.2" height="88.6" viewBox="309.7 403.0 100.2 88.6" overflow="hidden">
<rect x="307.7" y="401.0" width="104.2" height="92.6" fill="url(#b43)" filter="url(#bgn)"/>
<g filter="url(#sph)"><ellipse cx="359.7" cy="446.8" rx="45.4" ry="42.7" fill="url(#g43)"/>
<circle cx="361.2" cy="446" r="26" fill="url(#k43)"/>
<ellipse cx="359.7" cy="446.8" rx="41.5" ry="38.8" fill="none" stroke="#000" stroke-width="7.8" opacity="0.42" filter="url(#mot)"/>
<ellipse cx="359.7" cy="446.8" rx="33.7" ry="31.0" fill="none" stroke="#000" stroke-width="7.8" opacity="0.21" filter="url(#mot)"/>
<ellipse cx="359.7" cy="446.8" rx="45.4" ry="42.7" fill="none" stroke="#2e2e2e" stroke-width="1.8" stroke-opacity="0.8"/></g>
</svg>
<svg x="0" y="494.2" width="100.8" height="88.8" viewBox="0 494.2 100.8 88.8" overflow="hidden">
<rect x="-2" y="492.2" width="104.8" height="92.8" fill="url(#b50)" filter="url(#bgn)"/>
<circle cx="71" cy="525" r="4" fill="#fff" fill-opacity="0.03" stroke="#303030" stroke-opacity="0.35" stroke-width="0.9"/><circle cx="71" cy="525" r="3" fill="none" stroke="#fff" stroke-opacity="0.08" stroke-width="0.8"/>
<g filter="url(#sph)"><ellipse cx="50.3" cy="547.0" rx="20.1" ry="21.0" fill="url(#g50)"/>
<ellipse cx="50.3" cy="547.0" rx="20.1" ry="21.0" fill="none" stroke="#2c2c2c" stroke-width="1.8" stroke-opacity="0.8"/></g>
</svg>
<svg x="103.3" y="494.2" width="100.6" height="88.8" viewBox="103.3 494.2 100.6 88.8" overflow="hidden">
<rect x="101.3" y="492.2" width="104.6" height="92.8" fill="#6a6a6a" filter="url(#bgn)"/>
<g filter="url(#sph)"><ellipse cx="154.5" cy="533.6" rx="28.9" ry="27.6" fill="url(#g51)"/>
<ellipse cx="154.5" cy="533.6" rx="28.9" ry="27.6" fill="none" stroke="#2a2a2a" stroke-width="1.8" stroke-opacity="0.8"/></g>
</svg>
<svg x="206.9" y="494.2" width="99.9" height="88.8" viewBox="206.9 494.2 99.9 88.8" overflow="hidden">
<rect x="204.9" y="492.2" width="103.9" height="92.8" fill="url(#b52)" filter="url(#bgn)"/>
<g filter="url(#sph)"><ellipse cx="256.7" cy="536.3" rx="36.1" ry="34.2" fill="url(#g52)"/>
<circle cx="256.6" cy="535.3" r="21" fill="url(#k52)"/>
<ellipse cx="256.7" cy="536.3" rx="33.0" ry="31.1" fill="none" stroke="#000" stroke-width="6.2" opacity="0.42" filter="url(#mot)"/>
<ellipse cx="256.7" cy="536.3" rx="26.7" ry="24.8" fill="none" stroke="#000" stroke-width="6.2" opacity="0.21" filter="url(#mot)"/>
<ellipse cx="256.7" cy="536.3" rx="36.1" ry="34.2" fill="none" stroke="#2e2e2e" stroke-width="1.8" stroke-opacity="0.8"/></g>
</svg>
<svg x="309.7" y="494.2" width="100.2" height="88.8" viewBox="309.7 494.2 100.2 88.8" overflow="hidden">
<rect x="307.7" y="492.2" width="104.2" height="92.8" fill="url(#b53)" filter="url(#bgn)"/>
<circle cx="404" cy="502" r="5" fill="#fff" fill-opacity="0.03" stroke="#303030" stroke-opacity="0.35" stroke-width="0.9"/><circle cx="404" cy="502" r="4" fill="none" stroke="#fff" stroke-opacity="0.08" stroke-width="0.8"/>
<g filter="url(#sph)"><ellipse cx="360.8" cy="539" rx="41.9" ry="40.8" fill="url(#g53)"/>
<circle cx="361.2" cy="539.3" r="29" fill="url(#k53)"/>
<ellipse cx="360.8" cy="539" rx="38.3" ry="37.2" fill="none" stroke="#000" stroke-width="7.2" opacity="0.42" filter="url(#mot)"/>
<ellipse cx="360.8" cy="539" rx="31.1" ry="30.0" fill="none" stroke="#000" stroke-width="7.2" opacity="0.21" filter="url(#mot)"/>
<ellipse cx="360.8" cy="539" rx="41.9" ry="40.8" fill="none" stroke="#303030" stroke-width="1.8" stroke-opacity="0.8"/></g>
</svg>
<rect x="80" y="117.8" width="14.2" height="3.1" fill="#fff"/>
<text x="5" y="122.6" font-size="13.95" fill="#f6f6f6">Ctrl.</text>
<text x="5" y="213.6" font-size="13.95" fill="#f6f6f6">DMSO</text>
<text x="5" y="303.8" font-size="13.95" fill="#f6f6f6">Cariporide</text>
<text x="5" y="395.6" font-size="13.95" fill="#f6f6f6">S0859</text>
<text x="5" y="486.1" font-size="13.95" fill="#f6f6f6">AR-C</text>
<text x="5" y="576.7" font-size="13.95" fill="#f6f6f6">S0859 + AR-C</text>
<text x="51.6" y="33.9" font-size="13.9" text-anchor="middle" fill="#000" stroke="#000" stroke-width="0.2">Day 2 (0)</text>
<text x="153.6" y="33.9" font-size="13.9" text-anchor="middle" fill="#000" stroke="#000" stroke-width="0.2">Day 4 (2)</text>
<text x="256.8" y="33.9" font-size="13.9" text-anchor="middle" fill="#000" stroke="#000" stroke-width="0.2">Day 7 (5)</text>
<text x="359.8" y="33.9" font-size="13.9" text-anchor="middle" fill="#000" stroke="#000" stroke-width="0.2">Day 9 (7)</text>
<text x="4.7" y="11.9" font-size="16.5" font-weight="bold" fill="#000">A</text>
<text x="428.2" y="12" font-size="17" font-weight="bold" fill="#000">B</text>
<g stroke="#000" stroke-width="1.45" fill="none" stroke-linecap="butt">
<path d="M480.7 79.12V523.15H745.8"/>
<path d="M474.0 523.15H480.7"/>
<path d="M474.0 434.49H480.7"/>
<path d="M474.0 345.83H480.7"/>
<path d="M474.0 257.17H480.7"/>
<path d="M474.0 168.51H480.7"/>
<path d="M474.0 79.85H480.7"/>
<path d="M480.70 523.15V529.35"/>
<path d="M510.15 523.15V529.35"/>
<path d="M539.60 523.15V529.35"/>
<path d="M569.05 523.15V529.35"/>
<path d="M598.50 523.15V529.35"/>
<path d="M627.95 523.15V529.35"/>
<path d="M657.40 523.15V529.35"/>
<path d="M686.85 523.15V529.35"/>
<path d="M716.30 523.15V529.35"/>
<path d="M745.75 523.15V529.35"/>
</g>
<g font-size="14.4" fill="#000" stroke="#000" stroke-width="0.6">
<text x="471.2" y="527.0" text-anchor="end">250</text>
<text x="471.2" y="438.4" text-anchor="end">350</text>
<text x="471.2" y="349.7" text-anchor="end">450</text>
<text x="471.2" y="261.1" text-anchor="end">550</text>
<text x="471.2" y="172.4" text-anchor="end">650</text>
<text x="471.2" y="83.7" text-anchor="end">750</text>
<text x="480.7" y="545.3" text-anchor="middle">1</text>
<text x="510.1" y="545.3" text-anchor="middle">2</text>
<text x="539.6" y="545.3" text-anchor="middle">3</text>
<text x="569.0" y="545.3" text-anchor="middle">4</text>
<text x="598.5" y="545.3" text-anchor="middle">5</text>
<text x="628.0" y="545.3" text-anchor="middle">6</text>
<text x="657.4" y="545.3" text-anchor="middle">7</text>
<text x="686.9" y="545.3" text-anchor="middle">8</text>
<text x="716.3" y="545.3" text-anchor="middle">9</text>
<text x="745.8" y="545.3" text-anchor="middle">10</text>
<text x="613.8" y="567.2" text-anchor="middle">Day</text>
<text transform="translate(437.9 300.6) rotate(-90)" text-anchor="middle">Diameter (μm)</text>
</g>
<g stroke="#000" stroke-width="1.45" fill="none" stroke-linejoin="round">
<path d="M510.1 470.3L569.0 380.0L657.4 234.7L716.3 122.7"/>
<path d="M510.1 458.2L569.0 384.0L657.4 241.5L716.3 161.9"/>
<path d="M510.1 448.0L569.0 354.0L657.4 239.5L686.9 167.0L716.3 138.8"/>
<path d="M510.1 465.0L569.0 361.8L657.4 220.9L716.3 128.0"/>
<path d="M510.1 466.6L569.0 402.3L657.4 284.0L716.3 210.8"/>
<path d="M510.1 491.3L569.0 417.2L657.4 305.8L716.3 254.1"/>
<path d="M510.1 441.0V491.3"/>
<path d="M505.4 441.0H514.9"/>
<path d="M505.4 475.0H514.9"/>
<path d="M569.0 340.6V417.2"/>
<path d="M564.3 340.6H573.8"/>
<path d="M564.3 369.0H573.8"/>
<path d="M564.3 398.6H573.8"/>
<path d="M657.4 207.4V246.0"/>
<path d="M652.7 207.4H662.1"/>
<path d="M652.7 225.0H662.1"/>
<path d="M657.4 270.0V305.8"/>
<path d="M652.7 270.0H662.1"/>
<path d="M716.3 106.2V161.9"/>
<path d="M711.6 106.2H721.0"/>
<path d="M711.6 110.1H721.0"/>
<path d="M711.6 122.7H721.0"/>
<path d="M716.3 188.5V210.8"/>
<path d="M711.6 188.5H721.0"/>
<path d="M716.3 229.2V254.1"/>
<path d="M711.6 229.2H721.0"/>
<path d="M480.7 468.1H540" stroke-dasharray="3.4 2.2" stroke-width="1.4"/>
</g>
<circle cx="510.1" cy="470.3" r="4.20" fill="none" stroke="#000" stroke-width="1.45"/>
<circle cx="569.0" cy="380.0" r="4.20" fill="none" stroke="#000" stroke-width="1.45"/>
<circle cx="657.4" cy="234.7" r="4.20" fill="none" stroke="#000" stroke-width="1.45"/>
<circle cx="716.3" cy="122.7" r="4.20" fill="none" stroke="#000" stroke-width="1.45"/>
<rect x="505.95" y="454.00" width="8.40" height="8.40" fill="none" stroke="#000" stroke-width="1.45"/>
<rect x="564.85" y="379.80" width="8.40" height="8.40" fill="none" stroke="#000" stroke-width="1.45"/>
<rect x="653.20" y="237.30" width="8.40" height="8.40" fill="none" stroke="#000" stroke-width="1.45"/>
<rect x="712.10" y="157.70" width="8.40" height="8.40" fill="none" stroke="#000" stroke-width="1.45"/>
<path d="M510.1 443.40L515.05 453.00H505.25Z" fill="#000"/>
<path d="M569.0 349.40L573.95 359.00H564.15Z" fill="#000"/>
<path d="M657.4 234.90L662.30 244.50H652.50Z" fill="#000"/>
<path d="M686.9 162.40L691.75 172.00H681.95Z" fill="#000"/>
<path d="M716.3 134.20L721.20 143.80H711.40Z" fill="#000"/>
<path d="M510.1 469.60L514.85 460.30H505.45Z" fill="#000"/>
<path d="M569.0 366.40L573.75 357.10H564.35Z" fill="#000"/>
<path d="M657.4 225.50L662.10 216.20H652.70Z" fill="#000"/>
<path d="M716.3 132.60L721.00 123.30H711.60Z" fill="#000"/>
<path d="M510.1 461.80L514.55 466.6L510.1 471.40L505.75 466.6Z" fill="#000"/>
<path d="M569.0 397.50L573.45 402.3L569.0 407.10L564.65 402.3Z" fill="#000"/>
<path d="M657.4 279.20L661.80 284.0L657.4 288.80L653.00 284.0Z" fill="#000"/>
<path d="M716.3 206.00L720.70 210.8L716.3 215.60L711.90 210.8Z" fill="#000"/>
<circle cx="510.1" cy="491.3" r="4.90" fill="#000"/>
<circle cx="569.0" cy="417.2" r="4.90" fill="#000"/>
<circle cx="657.4" cy="305.8" r="4.90" fill="#000"/>
<circle cx="716.3" cy="254.1" r="4.90" fill="#000"/>
<g font-size="14.4" fill="#000">
<path d="M496.5 86.2H520.9" stroke="#000" stroke-width="1.45"/>
<circle cx="508.7" cy="86.2" r="4.20" fill="none" stroke="#000" stroke-width="1.45"/>
<text x="534.0" y="91.3" stroke="#000" stroke-width="0.6">Ctrl.</text>
<path d="M496.5 111.8H520.9" stroke="#000" stroke-width="1.45"/>
<rect x="504.50" y="107.60" width="8.40" height="8.40" fill="none" stroke="#000" stroke-width="1.45"/>
<text x="534.0" y="116.9" stroke="#000" stroke-width="0.6">DMSO</text>
<path d="M496.5 137.5H520.9" stroke="#000" stroke-width="1.45"/>
<path d="M508.7 132.90L513.60 142.50H503.80Z" fill="#000"/>
<text x="534.0" y="142.6" stroke="#000" stroke-width="0.6">Cariporide</text>
<path d="M496.5 163.3H520.9" stroke="#000" stroke-width="1.45"/>
<path d="M508.7 167.90L513.40 158.60H504.00Z" fill="#000"/>
<text x="534.0" y="168.4" stroke="#000" stroke-width="0.6">S0859</text>
<path d="M496.5 189.0H520.9" stroke="#000" stroke-width="1.45"/>
<path d="M508.7 184.20L513.10 189.0L508.7 193.80L504.30 189.0Z" fill="#000"/>
<text x="534.0" y="194.1" stroke="#000" stroke-width="0.6">AR-C</text>
<path d="M496.5 214.8H520.9" stroke="#000" stroke-width="1.45"/>
<circle cx="508.7" cy="214.8" r="4.90" fill="#000"/>
<text x="534.0" y="219.9" stroke="#000" stroke-width="0.6">S0859 + AR-C</text>
</g>
<g stroke="#000" stroke-width="1.45" fill="none">
<path d="M645.4 373.97V507.00H778"/>
<path d="M638.7 507.00H645.4"/>
<path d="M638.7 462.90H645.4"/>
<path d="M638.7 418.80H645.4"/>
<path d="M638.7 374.70H645.4"/>
</g>
<g font-size="14.5" fill="#000" stroke="#000" stroke-width="0.6">
<text x="636.2" y="510.6" text-anchor="end">450</text>
<text x="636.2" y="466.5" text-anchor="end">550</text>
<text x="636.2" y="422.4" text-anchor="end">650</text>
<text x="636.2" y="378.3" text-anchor="end">750</text>
</g>
<path d="M648.4 396.1H663.4" stroke="#000" stroke-width="2.1" fill="none"/>
<path d="M655.9 389.3V404.0M652.3 389.3H659.5M652.3 404.0H659.5" stroke="#000" stroke-width="1.45" fill="none"/>
<circle cx="652.5" cy="387.0" r="3.19" fill="none" stroke="#000" stroke-width="1.5"/>
<circle cx="660.1" cy="388.9" r="3.19" fill="none" stroke="#000" stroke-width="1.5"/>
<circle cx="655.9" cy="411.7" r="3.19" fill="none" stroke="#000" stroke-width="1.5"/>
<path d="M670.8 415.1H685.8" stroke="#000" stroke-width="2.1" fill="none"/>
<path d="M678.3 406.3V424.8M674.7 406.3H681.9M674.7 424.8H681.9" stroke="#000" stroke-width="1.45" fill="none"/>
<rect x="671.31" y="401.91" width="6.38" height="6.38" fill="none" stroke="#000" stroke-width="1.5"/>
<rect x="678.51" y="404.31" width="6.38" height="6.38" fill="none" stroke="#000" stroke-width="1.5"/>
<rect x="674.81" y="430.61" width="6.38" height="6.38" fill="none" stroke="#000" stroke-width="1.5"/>
<path d="M692.8 404.1H707.8" stroke="#000" stroke-width="2.1" fill="none"/>
<path d="M700.3 395.2V411.7M696.7 395.2H703.9M696.7 411.7H703.9" stroke="#000" stroke-width="1.45" fill="none"/>
<path d="M696.5 388.01L700.32 395.50H692.68Z" fill="#000"/>
<path d="M704.0 397.61L707.82 405.10H700.18Z" fill="#000"/>
<path d="M700.3 416.51L704.12 424.00H696.48Z" fill="#000"/>
<path d="M714.6 399.4H729.6" stroke="#000" stroke-width="2.1" fill="none"/>
<path d="M722.1 390.0V409.4M718.5 390.0H725.7M718.5 409.4H725.7" stroke="#000" stroke-width="1.45" fill="none"/>
<path d="M718.5 389.89L722.17 382.63H714.83Z" fill="#000"/>
<path d="M725.9 395.89L729.57 388.63H722.23Z" fill="#000"/>
<path d="M722.1 421.49L725.77 414.23H718.43Z" fill="#000"/>
<path d="M736.6 439.5H751.6" stroke="#000" stroke-width="2.1" fill="none"/>
<path d="M744.1 430.1V450.6M740.5 430.1H747.7M740.5 450.6H747.7" stroke="#000" stroke-width="1.45" fill="none"/>
<path d="M740.3 422.56L743.82 426.4L740.3 430.24L736.78 426.4Z" fill="#000"/>
<path d="M748.1 425.86L751.62 429.7L748.1 433.54L744.58 429.7Z" fill="#000"/>
<path d="M744.1 458.16L747.62 462.0L744.1 465.84L740.58 462.0Z" fill="#000"/>
<path d="M758.9 461.3H773.9" stroke="#000" stroke-width="2.1" fill="none"/>
<path d="M766.4 448.0V473.6M762.8 448.0H770.0M762.8 473.6H770.0" stroke="#000" stroke-width="1.45" fill="none"/>
<circle cx="766.4" cy="442.8" r="4.07" fill="#000"/>
<circle cx="766.4" cy="455.1" r="4.07" fill="#000"/>
<circle cx="766.4" cy="485.8" r="4.07" fill="#000"/>
<text x="744.8" y="423.6" font-size="16.5" font-weight="bold" text-anchor="middle">*</text>
<text x="768.2" y="439.4" font-size="16.5" font-weight="bold" text-anchor="middle">*</text>
</svg></body></html>
